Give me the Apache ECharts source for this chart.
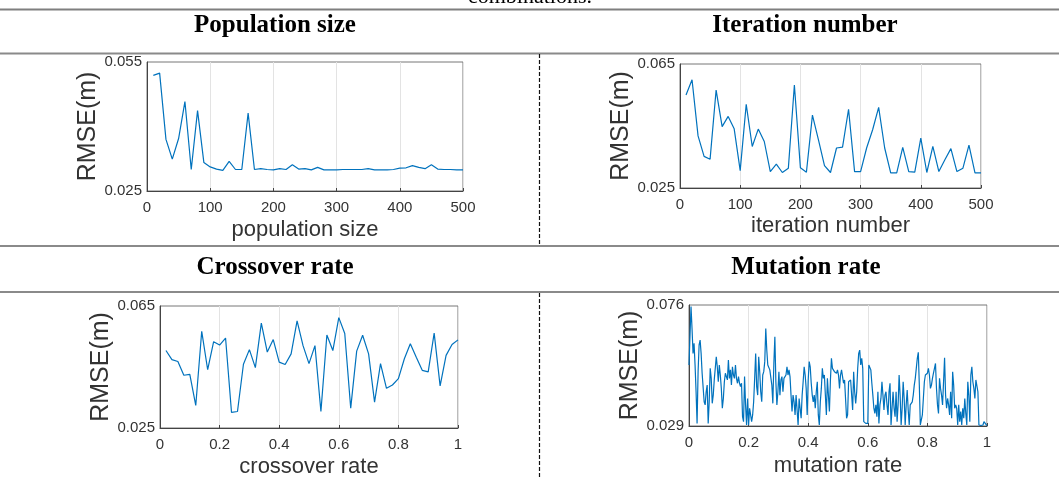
<!DOCTYPE html>
<html>
<head>
<meta charset="utf-8">
<script src="https://cdn.jsdelivr.net/npm/echarts@6/dist/echarts.min.js"></script>
<style>
html,body{margin:0;padding:0;background:#fff;}
#c{width:1059px;height:479px;}
</style>
</head>
<body>
<div id="c"></div>
<script>
// ---- data ----
const popX = [10,20,30,40,50,60,70,80,90,100,110,120,130,140,150,160,170,180,190,200,210,220,230,240,250,260,270,280,290,300,310,320,330,340,350,360,370,380,390,400,410,420,430,440,450,460,470,480,490,500];
const popY = [0.0519,0.0524,0.0370,0.0324,0.0372,0.0458,0.0300,0.0437,0.0316,0.0306,0.0301,0.0298,0.0319,0.0300,0.0300,0.0431,0.0300,0.0302,0.0300,0.0299,0.0302,0.0300,0.0311,0.0301,0.0302,0.0299,0.0305,0.0299,0.0299,0.0299,0.0300,0.0300,0.0300,0.0300,0.0302,0.0299,0.0299,0.0299,0.0300,0.0303,0.0304,0.0309,0.0305,0.0302,0.0311,0.0301,0.0300,0.0300,0.0299,0.0299];

const iterX = popX.slice();
const iterY = [0.0550,0.0599,0.0418,0.0352,0.0343,0.0566,0.0448,0.0481,0.0441,0.0306,0.0520,0.0384,0.0440,0.0400,0.0303,0.0327,0.0300,0.0314,0.0582,0.0315,0.0301,0.0485,0.0405,0.0322,0.0300,0.0379,0.0382,0.0504,0.0303,0.0303,0.0379,0.0438,0.0510,0.0379,0.0299,0.0299,0.0381,0.0303,0.0301,0.0411,0.0300,0.0384,0.0303,0.0341,0.0377,0.0303,0.0314,0.0388,0.0299,0.0299];

const crossX = [0.02,0.04,0.06,0.08,0.10,0.12,0.14,0.16,0.18,0.20,0.22,0.24,0.26,0.28,0.30,0.32,0.34,0.36,0.38,0.40,0.42,0.44,0.46,0.48,0.50,0.52,0.54,0.56,0.58,0.60,0.62,0.64,0.66,0.68,0.70,0.72,0.74,0.76,0.78,0.80,0.82,0.84,0.86,0.88,0.90,0.92,0.94,0.96,0.98,1.00];
const crossY = [0.0504,0.0474,0.0468,0.0423,0.0426,0.0324,0.0567,0.0441,0.0533,0.0522,0.0545,0.0301,0.0304,0.0459,0.0507,0.0448,0.0594,0.0499,0.0540,0.0466,0.0458,0.0493,0.0601,0.0520,0.0461,0.0520,0.0304,0.0555,0.0504,0.0612,0.0560,0.0315,0.0502,0.0554,0.0493,0.0335,0.0461,0.0380,0.0391,0.0412,0.0477,0.0526,0.0482,0.0439,0.0434,0.0561,0.0388,0.0488,0.0524,0.0539];

const mutY = [
0.0527,0.0527,0.0754,0.0669,0.0572,0.0611,0.0527,0.0423,0.0300,0.0501,
0.0605,0.0624,0.0572,0.0495,0.0488,0.0384,0.0372,0.0423,0.0449,0.0300,
0.0384,0.0514,0.0475,0.0378,0.0410,0.0469,0.0475,0.0559,0.0520,0.0462,
0.0527,0.0488,0.0436,0.0359,0.0397,0.0462,0.0495,0.0488,0.0469,0.0546,
0.0475,0.0508,0.0449,0.0520,0.0488,0.0475,0.0527,0.0475,0.0456,0.0482,
0.0456,0.0443,0.0456,0.0326,0.0307,0.0482,0.0372,0.0294,0.0397,0.0294,
0.0359,0.0352,0.0307,0.0333,0.0384,0.0475,0.0572,0.0443,0.0410,0.0559,
0.0501,0.0423,0.0384,0.0488,0.0501,0.0540,0.0669,0.0585,0.0527,0.0520,
0.0508,0.0514,0.0449,0.0378,0.0533,0.0637,0.0462,0.0372,0.0423,0.0501,
0.0410,0.0469,0.0482,0.0423,0.0475,0.0482,0.0488,0.0520,0.0488,0.0508,
0.0482,0.0410,0.0346,0.0410,0.0384,0.0333,0.0410,0.0352,0.0294,0.0397,
0.0359,0.0320,0.0410,0.0462,0.0520,0.0488,0.0436,0.0333,0.0469,0.0540,
0.0520,0.0456,0.0410,0.0384,0.0410,0.0359,0.0423,0.0462,0.0333,0.0294,
0.0384,0.0436,0.0514,0.0475,0.0488,0.0410,0.0333,0.0475,0.0410,0.0346,
0.0469,
0.0553,0.0514,0.0520,0.0501,0.0508,0.0495,0.0508,0.0488,0.0436,0.0488,
0.0508,0.0482,0.0456,0.0469,0.0475,0.0320,0.0333,0.0462,0.0469,0.0469,
0.0462,0.0352,0.0501,0.0423,0.0378,0.0423,0.0514,0.0572,0.0585,0.0527,
0.0553,0.0514,0.0307,0.0300,0.0300,0.0300,0.0300,0.0527,0.0533,0.0508,
0.0456,0.0410,0.0359,0.0339,0.0372,0.0326,0.0423,0.0300,0.0372,0.0397,
0.0462,0.0410,0.0352,0.0410,0.0423,0.0372,0.0333,0.0423,0.0456,0.0294,
0.0359,0.0423,0.0359,0.0326,0.0423,0.0307,0.0372,0.0488,0.0410,0.0294,
0.0359,0.0462,0.0397,0.0294,0.0372,0.0430,0.0352,0.0294,0.0372,0.0378,
0.0384,0.0410,0.0449,0.0475,0.0514,0.0553,0.0576,0.0449,0.0294,0.0294,
0.0333,0.0397,0.0462,0.0488,0.0491,0.0495,0.0514,0.0488,0.0436,0.0449,
0.0475,0.0495,0.0514,0.0533,0.0436,0.0372,0.0339,0.0475,0.0436,0.0410,
0.0372,0.0462,0.0555,0.0410,0.0359,0.0397,0.0372,0.0333,0.0423,0.0320,
0.0501,0.0449,0.0359,0.0372,0.0359,0.0294,0.0372,0.0307,0.0346,0.0294,
0.0359,0.0320,0.0397,0.0339,0.0294,0.0462,0.0410,0.0307,0.0488,0.0520,
0.0462,0.0436,0.0397,0.0469,0.0475,0.0423,0.0294,0.0292,0.0292,0.0294,
0.0294,0.0307,0.0300,0.0296,0.0292
];
// mutation rate sampled evenly over [0, 1]
const mutX = mutY.map((_, i) => i / (mutY.length - 1));

const headers = ['Population size', 'Iteration number', 'Crossover rate', 'Mutation rate'];
const xNames = ['population size', 'iteration number', 'crossover rate', 'mutation rate'];
const xRanges = [[0, 500, 100], [0, 500, 100], [0, 1, 0.2], [0, 1, 0.2]];
const yRanges = [[0.025, 0.055], [0.025, 0.065], [0.025, 0.065], [0.029, 0.076]];
const yName = 'RMSE(m)';

// ---- layout ----
const grids = [
  {left: 147, top: 62, width: 316, height: 129},
  {left: 680, top: 64, width: 301, height: 124},
  {left: 160, top: 306, width: 298, height: 124},
  {left: 689, top: 305, width: 298, height: 121}
];
const yNameGaps = [43, 37, 42, 43];
const xNameGaps = [28, 27, 28, 29];

const chart = echarts.init(document.getElementById('c'), null, {renderer: 'canvas'});
const TXT = '#333';
const SANS = '"Liberation Sans", Arial, sans-serif';
const SERIF = '"Liberation Serif", "Times New Roman", serif';

const xAxes = [], yAxes = [], series = [];
const seriesData = [
  popX.map((x, i) => [x, popY[i]]),
  iterX.map((x, i) => [x, iterY[i]]),
  crossX.map((x, i) => [x, crossY[i]]),
  mutX.map((x, i) => [x, mutY[i]])
];
for (let k = 0; k < 4; k++) {
  xAxes.push({
    type: 'value', gridIndex: k,
    min: xRanges[k][0], max: xRanges[k][1], interval: xRanges[k][2],
    name: xNames[k], nameLocation: 'middle', nameGap: xNameGaps[k],
    nameTextStyle: {fontFamily: SANS, fontSize: 22, color: TXT},
    axisLine: {show: true, lineStyle: {color: '#444', width: 1}},
    axisTick: {show: true, inside: true, length: 3, lineStyle: {color: '#444'}},
    axisLabel: {fontFamily: SANS, fontSize: 15, color: TXT, margin: 9},
    splitLine: {show: true, lineStyle: {color: '#e3e3e3', width: 1}}
  });
  yAxes.push({
    type: 'value', gridIndex: k,
    min: yRanges[k][0], max: yRanges[k][1], interval: yRanges[k][1] - yRanges[k][0],
    name: yName, nameLocation: 'middle', nameGap: yNameGaps[k],
    nameTextStyle: {fontFamily: SANS, fontSize: 25, color: TXT},
    axisLine: {show: true, lineStyle: {color: '#444', width: 1}},
    axisTick: {show: false},
    axisLabel: {fontFamily: SANS, fontSize: 15, color: TXT, margin: 5,
      formatter: v => v.toFixed(3)},
    splitLine: {show: false}
  });
  series.push({
    type: 'line', xAxisIndex: k, yAxisIndex: k,
    data: seriesData[k], showSymbol: false, symbol: 'none',
    lineStyle: {color: '#0072BD', width: 1.2}, silent: true, animation: false
  });
}

const gridOpts = grids.map(g => Object.assign({show: true, borderColor: '#777', borderWidth: 1, backgroundColor: '#fff'}, g));

const hLine = (y, color, w) => ({type: 'line', silent: true, z: 0,
  shape: {x1: 0, y1: y, x2: 1059, y2: y}, style: {stroke: color, lineWidth: w}});
const vDash = (y1, y2) => ({type: 'line', silent: true, z: 0,
  shape: {x1: 539.5, y1: y1, x2: 539.5, y2: y2}, style: {stroke: '#111', lineWidth: 1.2, lineDash: [4, 2]}});
const header = (text, x, y) => ({type: 'text', silent: true, x: x, y: y,
  style: {text: text, font: 'bold 25px ' + SERIF, fill: '#000', textAlign: 'center', textVerticalAlign: 'middle'}});

const graphic = [
  hLine(9.5, '#7f7f7f', 2),
  hLine(53.5, '#8a8a8a', 2),
  hLine(246, '#8a8a8a', 2),
  hLine(292, '#8a8a8a', 2),
  vDash(54, 245), vDash(293, 479),
  {type: 'text', silent: true, x: 530, y: -3,
   style: {text: 'combinations.', font: '22px ' + SERIF, fill: '#000', textAlign: 'center', textVerticalAlign: 'middle'}},
  header(headers[0], 275, 26),
  header(headers[1], 805, 26),
  header(headers[2], 275, 268),
  header(headers[3], 806, 268)
];

chart.setOption({
  animation: false,
  backgroundColor: '#fff',
  grid: gridOpts,
  xAxis: xAxes,
  yAxis: yAxes,
  series: series,
  graphic: graphic
});
</script>
</body>
</html>
